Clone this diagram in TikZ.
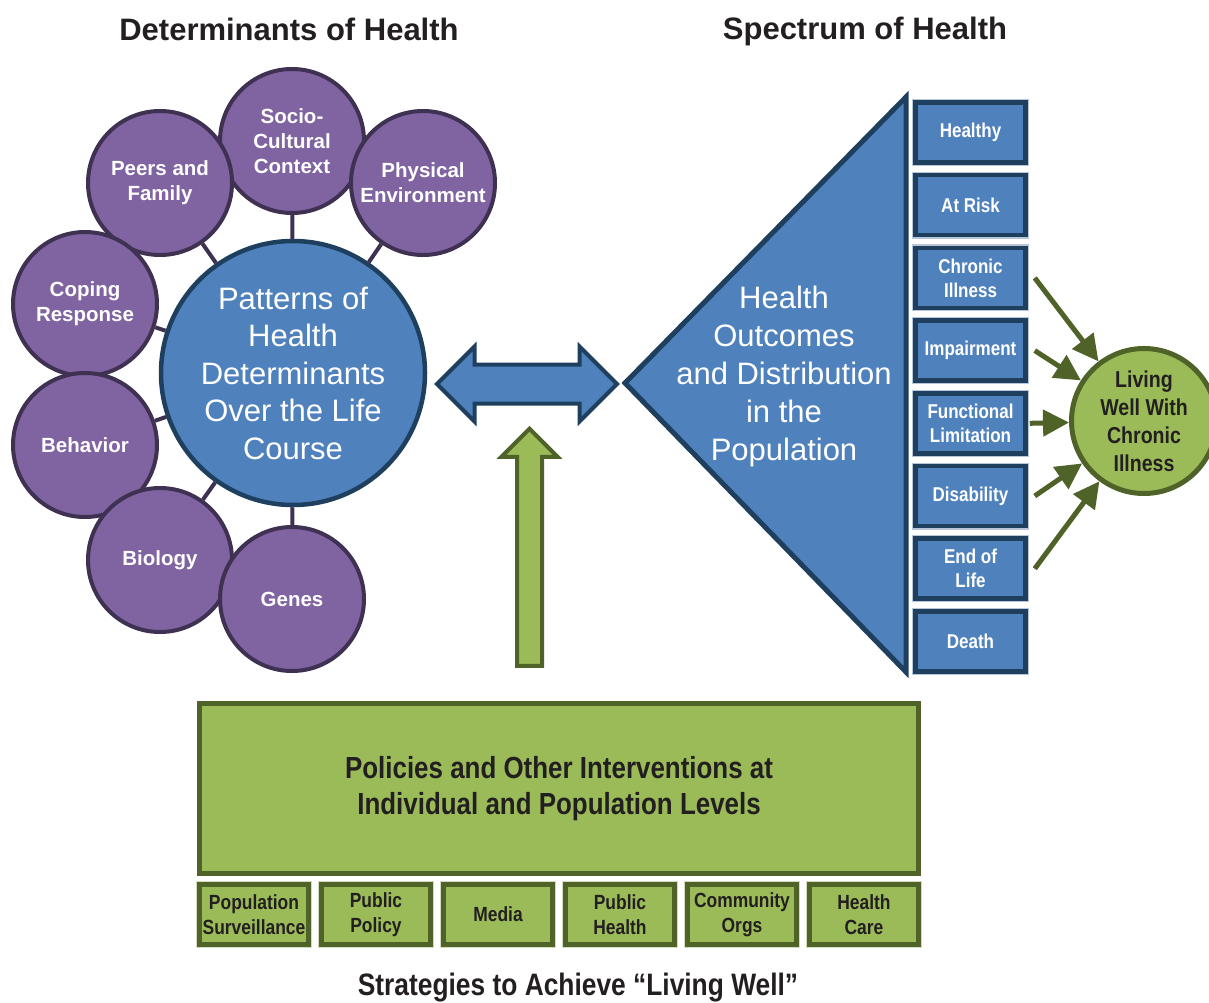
\documentclass[tikz,border=0pt]{standalone}
\usepackage{fontspec}
\setmainfont{Liberation Sans}
\newfontfamily\condfont[FakeStretch=0.85]{Liberation Sans}
\usepackage{tikz}
\usetikzlibrary{shapes}
\usetikzlibrary{shapes.arrows}
\usetikzlibrary{arrows.meta}
\usetikzlibrary{positioning}

\definecolor{hblue}{HTML}{4F81BD}
\definecolor{hbluedark}{HTML}{1F3F5F}
\definecolor{hbluerim}{HTML}{B7C6D8}
\definecolor{hpurple}{HTML}{8064A2}
\definecolor{hpurpledark}{HTML}{3F3151}
\definecolor{hgreen}{HTML}{9BBB59}
\definecolor{hgreendark}{HTML}{4F6228}
\definecolor{hgreenrim}{HTML}{D3DCC0}
\definecolor{hink}{HTML}{231F20}

\tikzset{
  factorcirc/.style={circle, draw=hpurpledark, line width=4pt, fill=hpurple, minimum size=144pt, inner sep=0pt, align=center, text=white, font=\bfseries\fontsize{20.5}{25}\selectfont},
  stubline/.style={draw=hpurpledark, line width=4pt},
  hubcirc/.style={circle, draw=hbluedark, line width=4.5pt, fill=hblue, minimum size=264pt, inner sep=0pt, align=center, text=white, font=\fontsize{31}{37.5}\selectfont},
  stagebox/.style={rectangle, preaction={draw=hbluerim, line width=7pt}, draw=hbluedark, line width=4.5pt, fill=hblue, minimum width=110pt, minimum height=60pt, inner sep=0pt, align=center, text=white, font=\condfont\bfseries\fontsize{20}{24}\selectfont},
  toolbox/.style={rectangle, preaction={draw=hgreenrim, line width=7pt}, draw=hgreendark, line width=4.5pt, fill=hgreen, minimum width=109pt, minimum height=60pt, inner sep=0pt, align=center, text=hink, font=\condfont\bfseries\fontsize{20.5}{25}\selectfont},
  goalcirc/.style={circle, draw=hgreendark, line width=5pt, fill=hgreen, minimum size=145pt, inner sep=0pt, align=center, text=hink, font=\condfont\bfseries\fontsize{23}{28}\selectfont},
  feedarrow/.style={draw=hgreendark, line width=5pt, -{Triangle[length=26pt,width=26pt]}},
  twoway/.style={double arrow, draw=hbluedark, line width=4pt, fill=hblue, double arrow head extend=18pt, inner xsep=0pt, inner ysep=17.5pt},
  upward/.style={single arrow, draw=hgreendark, line width=4pt, fill=hgreen, single arrow head extend=15.5pt, inner xsep=0pt, inner ysep=10.5pt},
  heading/.style={font=\bfseries\fontsize{31}{37}\selectfont, text=hink}
}

\begin{document}
\begin{tikzpicture}[x=1pt,y=-1pt]
\useasboundingbox (0,0) rectangle (1209,1003);
\clip (0,0) rectangle (1209,1003);

%titles
\node[heading] (dettitle) at (289,29) {Determinants of Health};
\node[heading] (spectitle) at (865,31) {Spectrum of Health};

%hub and determinants
\node[hubcirc] (hub) at (293,373) {Patterns of\\Health\\Determinants\\Over the Life\\Course};

\node[factorcirc] (socio) at (292,141) {Socio-\\Cultural\\Context};
\node[factorcirc] (peers) at (160,183) {Peers and\\Family};
\node[factorcirc] (physical) at (423,183) {Physical\\Environment};
\node[factorcirc] (coping) at (85,304) {Coping\\Response};
\node[factorcirc] (behavior) at (85,445) {Behavior};
\node[factorcirc] (biology) at (160,560) {Biology};
\node[factorcirc] (genes) at (292,599) {Genes};

\foreach \f in {socio,peers,physical,coping,behavior,biology,genes} {
\draw[stubline] (hub) -- (\f);
}

%triangle
\draw[draw=hbluedark, line width=5pt, fill=hblue] (625,383) -- (906,97) -- (906,672) -- cycle;
\node[align=center, text=white, font=\fontsize{31}{38}\selectfont] (outcomes) at (784,376) {Health\\Outcomes\\and Distribution\\in the\\Population};

%double arrow
\node[twoway, minimum height=180pt] (link) at (527,384) {};

%spectrum
\foreach \name/\txt [count=\i from 0] in {healthy/Healthy, atrisk/At Risk, chronic/{Chronic\\Illness}, impair/Impairment, funct/{Functional\\Limitation}, disab/Disability, endlife/{End of\\Life}, death/Death} {
\node[stagebox] (\name) at (970.5,{132.5+72.7*\i}) {\txt};
}

%living well
\node[goalcirc] (living) at (1144,421) {Living\\Well With\\Chronic\\Illness};

\draw[feedarrow] ([xshift=7pt]chronic.east) -- (living);
\draw[feedarrow] ([xshift=7pt]impair.east) -- (living);
\draw[feedarrow] ([xshift=2pt]funct.east) -- (living);
\draw[feedarrow] ([xshift=7pt]disab.east) -- (living);
\draw[feedarrow] ([xshift=7pt]endlife.east) -- (living);

%strategies
\node[rectangle, draw=hgreendark, line width=5pt, fill=hgreen, minimum width=719pt, minimum height=170pt, align=center, text=hink, font=\condfont\bfseries\fontsize{30.5}{36}\selectfont] (policies) at (559,788.5) {Policies and Other Interventions at\\Individual and Population Levels};

\node[upward, minimum height=237pt, rotate=90] (lift) at (529.5,553.5) {};

\foreach \name/\txt [count=\i from 0] in {survey/{Population\\Surveillance}, pubpol/{Public\\Policy}, media/Media, pubhealth/{Public\\Health}, commorgs/{Community\\Orgs}, care/{Health\\Care}} {
\node[toolbox] (\name) at ({254+122*\i},914.5) {\txt};
}

\node[text=hink, font=\condfont\bfseries\fontsize{31}{37}\selectfont] (strategies) at (578,988) {Strategies to Achieve “Living Well”};

\end{tikzpicture}
\end{document}
